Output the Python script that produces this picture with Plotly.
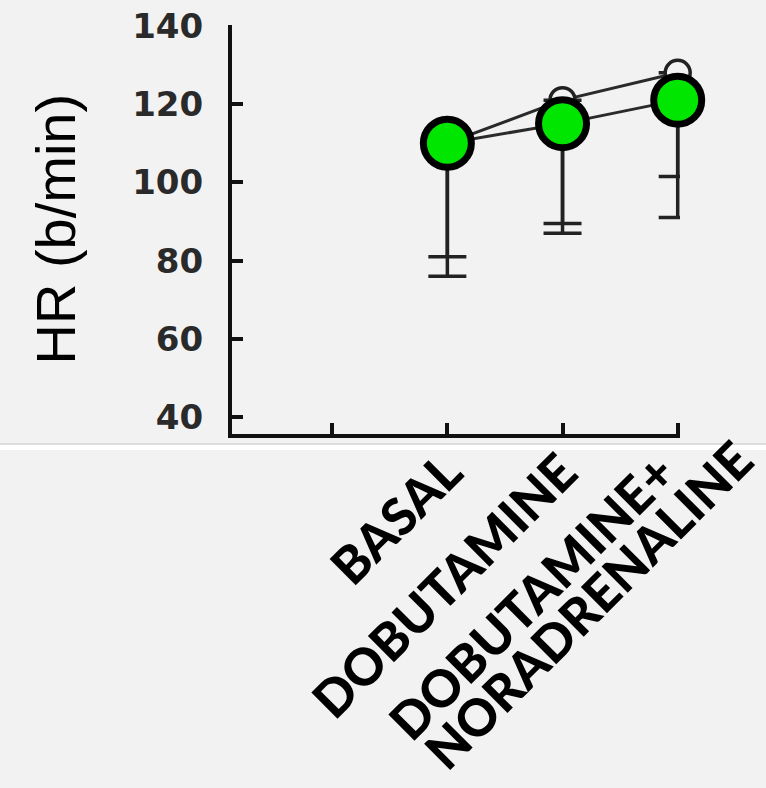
import plotly.graph_objects as go

# ---- data ----
x_pos = [1, 2, 3]
tick_vals = [0, 1, 2, 3]
tick_text = ["", "BASAL", "DOBUTAMINE", "DOBUTAMINE+<br>NORADRENALINE"]
y_ticks = [40, 60, 80, 100, 120, 140]

open_hr = [110, 121, 128]
open_err_minus = [34, 34, 37]

green_hr = [110, 115, 121]
green_err_minus = [29, 25.5, 19.5]

BG = "#f2f2f2"
XFONT = dict(family="Lato", size=51, color="#000000", weight=900)

# the two-line label of the last tick is placed line by line
last_lines = tick_text[-1].split("<br>")
axis_ticktext = tick_text[:-1] + [""]

fig = go.Figure()

fig.add_trace(go.Scatter(
    x=x_pos, y=open_hr, mode="lines+markers", cliponaxis=False,
    line=dict(color="#2a2a2a", width=3),
    marker=dict(size=25, color=BG, line=dict(color="#222222", width=3.5)),
    error_y=dict(type="data", symmetric=False, array=[0, 0, 0],
                 arrayminus=open_err_minus, color="#222222",
                 thickness=3.5, width=19),
    showlegend=False,
))

fig.add_trace(go.Scatter(
    x=x_pos, y=green_hr, mode="lines+markers", cliponaxis=False,
    line=dict(color="#2a2a2a", width=3),
    marker=dict(size=48, color="#00e600", line=dict(color="#000000", width=7)),
    error_y=dict(type="data", symmetric=False, array=[0, 0, 0],
                 arrayminus=green_err_minus, color="#222222",
                 thickness=3.5, width=19),
    showlegend=False,
))

fig.update_layout(
    width=766, height=788,
    paper_bgcolor=BG, plot_bgcolor=BG,
    margin=dict(l=232, r=86, t=25, b=354, autoexpand=False),
    xaxis=dict(
        range=[-0.87, 3.02], tickvals=tick_vals, ticktext=axis_ticktext,
        showgrid=False, zeroline=False, automargin=False,
        showline=True, linecolor="#111111", linewidth=4,
        ticks="inside", ticklen=11, tickwidth=3.5, tickcolor="#111111",
        tickangle=-45, ticklabelstandoff=-16,
        tickfont=XFONT,
    ),
    yaxis=dict(
        range=[35.7, 140.2], tickvals=y_ticks,
        showgrid=False, zeroline=False, automargin=False,
        showline=True, linecolor="#111111", linewidth=4,
        ticks="inside", ticklen=11, tickwidth=3.5, tickcolor="#111111",
        ticklabelstandoff=18,
        tickfont=dict(family="DejaVu Sans", size=34, color="#2a2a2a", weight="bold"),
    ),
    annotations=[
        dict(text="HR (b/min)", xref="paper", yref="paper",
             x=-0.395, y=0.5, xanchor="center", yanchor="middle",
             textangle=-90, showarrow=False,
             font=dict(family="Liberation Sans", size=56, color="#000000")),
        dict(text=last_lines[0], xref="paper", yref="paper",
             x=1.020, y=-0.012, xanchor="right", yanchor="top",
             textangle=-45, showarrow=False, font=XFONT),
        dict(text=last_lines[1], xref="paper", yref="paper",
             x=1.195, y=0.0198, xanchor="right", yanchor="top",
             textangle=-45, showarrow=False, font=XFONT),
    ],
    shapes=[
        dict(type="rect", xref="paper", yref="paper",
             x0=-0.52, x1=1.2, y0=-0.0391, y1=-0.0269,
             fillcolor="#ffffff", line=dict(width=0), layer="below"),
        dict(type="line", xref="paper", yref="paper",
             x0=-0.52, x1=1.2, y0=-0.0245, y1=-0.0245,
             line=dict(color="#d4d4d4", width=1.5), layer="below"),
    ],
)

fig.write_html("out.html", config={"displayModeBar": False},
               post_script="document.body.style.margin='0';")
